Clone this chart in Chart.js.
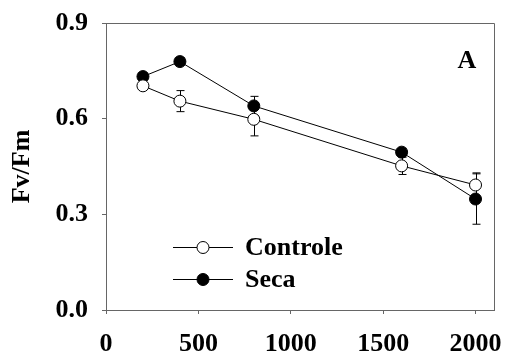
<!DOCTYPE html>
<html><head><meta charset="utf-8">
<script src="https://cdn.jsdelivr.net/npm/chart.js@4"></script>
<style>html,body{margin:0;padding:0;background:#fff}#wrap{width:517px;height:356px}</style>
</head><body><div id="wrap"><canvas id="c" width="517" height="356"></canvas></div>
<script>
// Photosynthetic efficiency (Fv/Fm) vs. irradiance, control and drought plants
const irradiance = [200, 400, 800, 1600, 2000];
const controle = [0.703, 0.655, 0.598, 0.452, 0.392];
const controleErr = [0.01, 0.033, 0.052, 0.027, 0.038];
const seca = [0.732, 0.779, 0.640, 0.495, 0.348];
const secaErr = [0.01, 0.012, 0.030, 0.012, 0.079];
const seriesNames = ['Controle', 'Seca'];
const yTicks = [0.0, 0.3, 0.6, 0.9];
const xTicks = [0, 500, 1000, 1500, 2000];
const yTitle = 'Fv/Fm';
const panelLetter = 'A';

const FONT = 'Liberation Serif, Times New Roman, serif';
const FSIZE = 26;
const AXIS = '#666';

function pts(xs, ys) { return xs.map((x, i) => ({ x: x, y: ys[i] })); }

// vertical error bars with caps, drawn beneath the markers
const errorBars = {
  id: 'errorBars',
  beforeDatasetsDraw(chart) {
    const ctx = chart.ctx, xs = chart.scales.x, ys = chart.scales.y;
    ctx.save();
    ctx.strokeStyle = '#000';
    ctx.lineWidth = 1;
    chart.data.datasets.forEach(ds => {
      ds.data.forEach((p, i) => {
        const e = ds.errors[i];
        const px = Math.round(xs.getPixelForValue(p.x)) + 0.5;
        const top = ys.getPixelForValue(p.y + e), bot = ys.getPixelForValue(p.y - e);
        ctx.beginPath();
        ctx.moveTo(px, top); ctx.lineTo(px, bot);
        ctx.moveTo(px - 4, top); ctx.lineTo(px + 4, top);
        ctx.moveTo(px - 4, bot); ctx.lineTo(px + 4, bot);
        ctx.stroke();
      });
    });
    ctx.restore();
  }
};

// frame on top/right, legend with line-through-marker keys, panel letter
const decorations = {
  id: 'decorations',
  afterDraw(chart) {
    const ctx = chart.ctx, a = chart.chartArea;
    ctx.save();
    ctx.strokeStyle = AXIS;
    ctx.lineWidth = 1;
    ctx.beginPath();
    ctx.moveTo(a.left, a.top + 0.5); ctx.lineTo(a.right + 0.5, a.top + 0.5);
    ctx.lineTo(a.right + 0.5, a.bottom);
    ctx.stroke();

    ctx.font = 'bold ' + FSIZE + 'px ' + FONT;
    ctx.fillStyle = '#000';
    ctx.textBaseline = 'middle';
    ctx.textAlign = 'center';
    ctx.fillText(panelLetter, 467, 61);

    const rows = [247, 279];
    chart.data.datasets.forEach((ds, i) => {
      const y = rows[i] + 0.5;
      ctx.strokeStyle = '#000';
      ctx.beginPath();
      ctx.moveTo(173, y); ctx.lineTo(233, y);
      ctx.stroke();
      ctx.beginPath();
      ctx.arc(203, y, ds.pointRadius, 0, Math.PI * 2);
      ctx.fillStyle = ds.pointBackgroundColor;
      ctx.fill();
      ctx.stroke();
      ctx.fillStyle = '#000';
      ctx.textAlign = 'left';
      ctx.fillText(ds.label, 245, rows[i] + 1);
    });
    ctx.restore();
  }
};

new Chart(document.getElementById('c'), {
  type: 'line',
  data: {
    datasets: [
      { label: seriesNames[0], data: pts(irradiance, controle), errors: controleErr,
        borderColor: '#000', borderWidth: 1, pointRadius: 6, pointBackgroundColor: '#fff',
        pointBorderColor: '#000', pointBorderWidth: 1, tension: 0 },
      { label: seriesNames[1], data: pts(irradiance, seca), errors: secaErr,
        borderColor: '#000', borderWidth: 1, pointRadius: 6, pointBackgroundColor: '#000',
        pointBorderColor: '#000', pointBorderWidth: 1, tension: 0 }
    ]
  },
  options: {
    responsive: false,
    devicePixelRatio: 1,
    animation: false,
    layout: { padding: { top: 23, right: 10, left: 0, bottom: 0 } },
    plugins: { legend: { display: false }, tooltip: { enabled: false } },
    scales: {
      x: {
        type: 'linear', min: 0, max: 2100,
        afterBuildTicks(s) { s.ticks = xTicks.map(v => ({ value: v })); },
        afterFit(s) { s.height = 46; },
        grid: { drawOnChartArea: false, drawTicks: true, tickLength: 4, color: AXIS },
        border: { color: AXIS, width: 1 },
        ticks: { color: '#000', padding: 15, maxRotation: 0, callback: v => String(v),
                 font: { family: FONT, size: FSIZE, weight: 'bold' } }
      },
      y: {
        min: 0, max: 0.9,
        afterBuildTicks(s) { s.ticks = yTicks.map(v => ({ value: v })); },
        afterFit(s) { s.width = 106; s.paddingTop = 0; s.paddingBottom = 0; },
        grid: { drawOnChartArea: false, drawTicks: true, tickLength: 4, color: AXIS },
        border: { color: AXIS, width: 1 },
        ticks: { color: '#000', padding: 14, callback: v => v.toFixed(1),
                 font: { family: FONT, size: FSIZE, weight: 'bold' } },
        title: { display: true, text: yTitle, color: '#000', padding: { top: 7, bottom: 0 },
                 font: { family: FONT, size: FSIZE, weight: 'bold' } }
      }
    }
  },
  plugins: [errorBars, decorations]
});
</script>
</body></html>
